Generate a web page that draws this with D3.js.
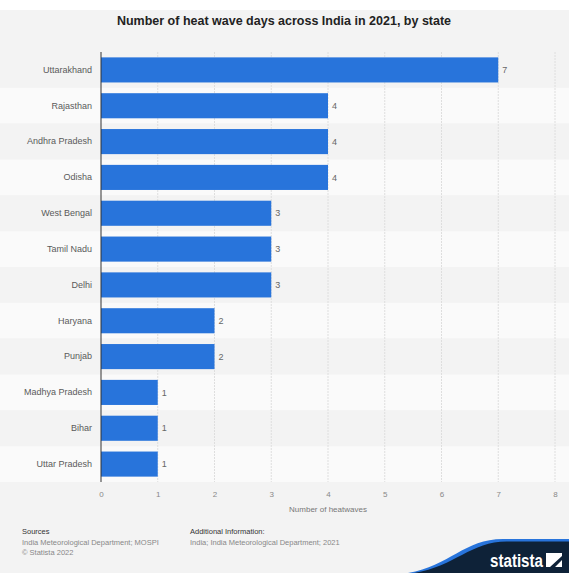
<!DOCTYPE html>
<html>
<head>
<meta charset="utf-8">
<script src="https://cdn.jsdelivr.net/npm/d3@7"></script>
<style>
  html, body { margin: 0; padding: 0; background: #ffffff; }
  svg { display: block; font-family: "Liberation Sans", Arial, sans-serif; }
</style>
</head>
<body>
<svg id="chart" width="569" height="573"></svg>
<script>
// Heat wave days per state, 2021
const states = ["Uttarakhand", "Rajasthan", "Andhra Pradesh", "Odisha", "West Bengal",
  "Tamil Nadu", "Delhi", "Haryana", "Punjab", "Madhya Pradesh", "Bihar", "Uttar Pradesh"];
const heatwaveDays = [7, 4, 4, 4, 3, 3, 3, 2, 2, 1, 1, 1];
const xTicks = [0, 1, 2, 3, 4, 5, 6, 7, 8];

const svg = d3.select("#chart");
const W = 569, H = 573;

// page background
svg.append("rect").attr("x", 0).attr("y", 0).attr("width", W).attr("height", H).attr("fill", "#ffffff");
svg.append("rect").attr("x", 0).attr("y", 10).attr("width", W).attr("height", H - 10).attr("fill", "#f3f3f3");

const margin = { left: 101, right: 14, top: 52, bottom: 91 };
const x = d3.scaleLinear().domain([0, 8]).range([margin.left, W - margin.right]);
const y = d3.scaleBand().domain(states).range([margin.top, H - margin.bottom]).paddingInner(0.3).paddingOuter(0.15);
const band = d3.scaleBand().domain(states).range([margin.top, H - margin.bottom]);

// alternating row bands
svg.append("g").selectAll("rect").data(states).join("rect")
  .attr("x", 0).attr("width", W)
  .attr("y", d => band(d)).attr("height", band.bandwidth())
  .attr("fill", (d, i) => i % 2 ? "#fafafa" : "#f3f3f3");

// vertical gridlines
svg.append("g").selectAll("line").data(xTicks.slice(1)).join("line")
  .attr("x1", d => x(d)).attr("x2", d => x(d))
  .attr("y1", margin.top).attr("y2", H - margin.bottom)
  .attr("stroke", "#dedede").attr("stroke-width", 1).attr("stroke-dasharray", "2,1");

// bars
svg.append("g").selectAll("rect").data(states).join("rect")
  .attr("x", x(0)).attr("y", d => y(d))
  .attr("width", (d, i) => x(heatwaveDays[i]) - x(0))
  .attr("height", y.bandwidth())
  .attr("fill", "#2874db");

// value labels
svg.append("g").selectAll("text").data(states).join("text")
  .attr("x", (d, i) => x(heatwaveDays[i]) + 4)
  .attr("y", d => y(d) + y.bandwidth() / 2)
  .attr("dy", "0.35em")
  .attr("font-size", 9).attr("fill", "#666")
  .text((d, i) => heatwaveDays[i]);

// category axis
const yAxis = d3.axisLeft(y).tickSize(0).tickPadding(9);
const gy = svg.append("g").attr("transform", `translate(${x(0)},0)`).call(yAxis);
gy.select(".domain").attr("stroke", "#333").attr("d", `M0,${margin.top}V${H - margin.bottom}`);
gy.selectAll("text").attr("font-size", 9).attr("fill", "#5a5a5a").attr("font-family", "Liberation Sans, Arial, sans-serif");

// value axis
const xAxis = d3.axisBottom(x).tickValues(xTicks).tickSize(0).tickPadding(9).tickFormat(d3.format("d"));
const gx = svg.append("g").attr("transform", `translate(0,${H - margin.bottom})`).call(xAxis);
gx.select(".domain").remove();
gx.selectAll("text").attr("font-size", 8).attr("fill", "#888").attr("font-family", "Liberation Sans, Arial, sans-serif");

svg.append("text").attr("x", x(4)).attr("y", 512).attr("text-anchor", "middle")
  .attr("font-size", 8).attr("fill", "#777").text("Number of heatwaves");

// title
svg.append("text").attr("x", 284).attr("y", 25).attr("text-anchor", "middle")
  .attr("font-size", 12.5).attr("font-weight", "bold").attr("fill", "#222")
  .text("Number of heat wave days across India in 2021, by state");

// footer
const foot = svg.append("g").attr("font-size", 7.5);
foot.append("text").attr("x", 22).attr("y", 534).attr("fill", "#333").text("Sources");
foot.append("text").attr("x", 22).attr("y", 545).attr("fill", "#888").text("India Meteorological Department; MOSPI");
foot.append("text").attr("x", 22).attr("y", 555).attr("fill", "#888").text("© Statista 2022");
foot.append("text").attr("x", 190).attr("y", 534).attr("fill", "#333").text("Additional Information:");
foot.append("text").attr("x", 190).attr("y", 545).attr("fill", "#888").text("India; India Meteorological Department; 2021");

// statista badge
const logo = svg.append("g");
logo.append("path").attr("fill", "#2874db")
  .attr("d", "M408,573 C450,566 465,538 505,539 L569,539 L569,573 Z");
logo.append("path").attr("fill", "#0e2238")
  .attr("d", "M414,573 C456,566 471,541 508,541.5 L569,541.5 L569,573 Z");
logo.append("text").attr("x", 490).attr("y", 567).attr("fill", "#ffffff")
  .attr("font-size", 18).attr("font-weight", "bold")
  .attr("textLength", 53).attr("lengthAdjust", "spacingAndGlyphs")
  .text("statista");
logo.append("path").attr("fill", "#ffffff")
  .attr("d", "M546,553 L562,553 L562,556 L550,567 L546,567 Z M562,560 L562,567 L555,567 Z");
</script>
</body>
</html>
